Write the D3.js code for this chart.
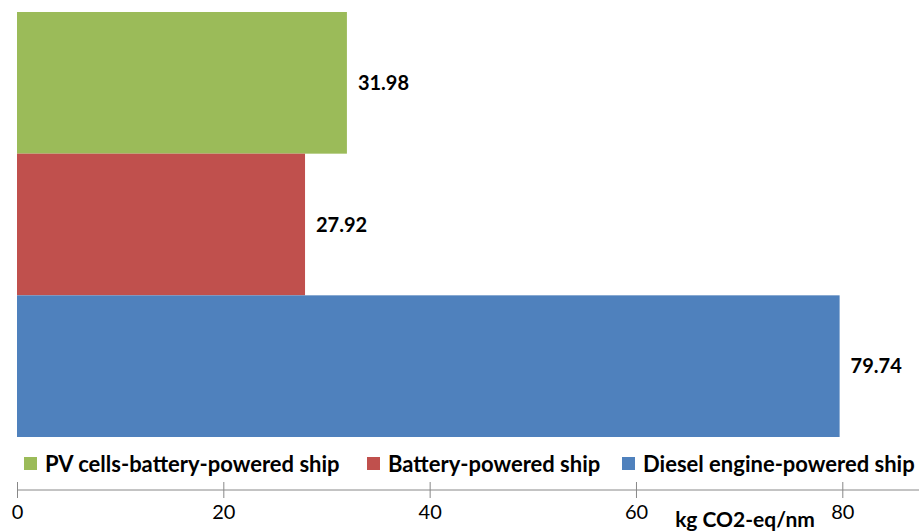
<!DOCTYPE html>
<html><head><meta charset="utf-8">
<script src="https://cdn.jsdelivr.net/npm/d3@7"></script>
<style>body{margin:0;background:#fff}svg{display:block}text{font-family:Lato,"Open Sans",sans-serif}</style>
</head><body><svg id="c" width="919" height="531"></svg>
<script>
const categories = ["PV cells-battery-powered ship","Battery-powered ship","Diesel engine-powered ship"];
const values = [31.98, 27.92, 79.74];
const colors = ["#9BBB59","#C0504D","#4F81BD"];
const tickValues = [0,20,40,60,80];
const axisTitle = "kg CO2-eq/nm";

const svg = d3.select("#c");
const x = d3.scaleLinear().domain([0,80]).range([17,842.3]);
const y = d3.scaleBand().domain(categories).range([12,437]).padding(0);

svg.selectAll("rect.bar").data(categories).join("rect").attr("class","bar")
  .attr("x",x(0)).attr("y",d=>y(d)).attr("height",y.bandwidth())
  .attr("width",(d,i)=>x(values[i])-x(0)).attr("fill",(d,i)=>colors[i]);

svg.selectAll("text.val").data(categories).join("text").attr("class","val")
  .attr("x",(d,i)=>x(values[i])+11).attr("y",d=>y(d)+y.bandwidth()/2)
  .attr("dy","0.35em").attr("font-size",20).attr("font-weight","bold").attr("fill","#000")
  .text((d,i)=>values[i].toFixed(2));

// axis
const axisY = 490;
svg.append("line").attr("x1",x(0)).attr("x2",919).attr("y1",axisY).attr("y2",axisY).attr("stroke","#888").attr("stroke-width",1);
const ax = svg.append("g").attr("transform",`translate(0,${axisY-8})`)
  .call(d3.axisBottom(x).tickValues(tickValues).tickSize(16).tickSizeOuter(0).tickFormat(d3.format("d")));
ax.select(".domain").remove();
ax.selectAll(".tick line").attr("stroke","#888");
ax.selectAll(".tick text").attr("font-size",20).attr("fill","#000").attr("y",30).attr("dy","0.35em").attr("font-family","Lato,sans-serif");

svg.append("text").attr("x",745).attr("y",520).attr("dy","0.35em").attr("text-anchor","middle")
  .attr("font-size",21).attr("font-weight","bold").attr("fill","#000").text(axisTitle);

// legend
const legX = [24, 367, 622];
const lg = svg.selectAll("g.leg").data(categories).join("g").attr("class","leg")
  .attr("transform",(d,i)=>`translate(${legX[i]},464)`);
lg.append("rect").attr("x",0).attr("y",-7).attr("width",13).attr("height",13).attr("fill",(d,i)=>colors[i]);
lg.append("text").attr("x",21).attr("y",0).attr("dy","0.35em").attr("font-size",22).attr("font-weight","bold").attr("fill","#000").text(d=>d);
</script></body></html>
